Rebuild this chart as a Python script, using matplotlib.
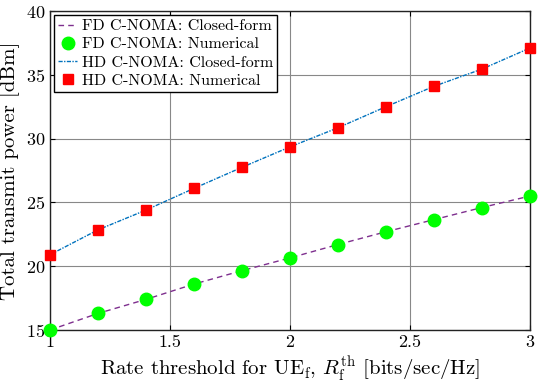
import matplotlib
matplotlib.use("Agg")
import matplotlib.pyplot as plt

x = [1.0, 1.2, 1.4, 1.6, 1.8, 2.0, 2.2, 2.4, 2.6, 2.8, 3.0]
fd_closed = [15.0, 16.3, 17.4, 18.6, 19.65, 20.65, 21.7, 22.7, 23.65, 24.6, 25.5]
fd_num = [15.0, 16.3, 17.4, 18.6, 19.65, 20.65, 21.7, 22.7, 23.65, 24.6, 25.5]
hd_closed = [20.9, 22.85, 24.4, 26.1, 27.75, 29.35, 30.85, 32.5, 34.1, 35.45, 37.1]
hd_num = [20.9, 22.85, 24.4, 26.1, 27.75, 29.35, 30.85, 32.5, 34.1, 35.45, 37.1]
xticks = [1, 1.5, 2, 2.5, 3]
yticks = [15, 20, 25, 30, 35, 40]

plt.rcParams['font.family'] = 'serif'
plt.rcParams['font.serif'] = ['cmr10', 'DejaVu Serif']
plt.rcParams['mathtext.fontset'] = 'cm'
plt.rcParams['axes.formatter.use_mathtext'] = True

fig = plt.figure(figsize=(5.42, 3.84), dpi=100)
ax = fig.add_axes([50/542, 1-330/384, 480/542, 319/384])

ax.plot(x, fd_closed, linestyle=(0, (4, 3)), color='#7E2F8E', lw=1.0, label='FD C-NOMA: Closed-form')
ax.plot(x, fd_num, linestyle='none', marker='o', ms=9, color='#00FF00', label='FD C-NOMA: Numerical', clip_on=False, zorder=3)
ax.plot(x, hd_closed, linestyle=(0, (3, 1, 1, 1)), color='#0072BD', lw=1.0, label='HD C-NOMA: Closed-form')
ax.plot(x, hd_num, linestyle='none', marker='s', ms=7, color='#FF0000', label='HD C-NOMA: Numerical', clip_on=False, zorder=3)

ax.set_xlim(1, 3)
ax.set_ylim(15, 40)
ax.set_xticks(xticks)
ax.set_yticks(yticks)
ax.set_xticklabels(['1', '1.5', '2', '2.5', '3'])
ax.grid(True, color='#888888', lw=0.8)
ax.tick_params(direction='in', top=True, right=True, labelsize=13)
for s in ax.spines.values():
    s.set_linewidth(1.0)
    s.set_color('#222222')

ax.set_xlabel(r'Rate threshold for UE$_\mathrm{f}$, $R_\mathrm{f}^\mathrm{th}$ [bits/sec/Hz]', fontsize=15, labelpad=3)
ax.set_ylabel('Total transmit power [dBm]', fontsize=15, labelpad=4)

leg = ax.legend(loc='upper left', fontsize=11.5, fancybox=False, edgecolor='black',
                framealpha=1, handlelength=1.2, handletextpad=0.3, borderpad=0.25,
                labelspacing=0.25, borderaxespad=0.25)
leg.get_frame().set_linewidth(1.0)

fig.savefig('out.png', dpi=100)
